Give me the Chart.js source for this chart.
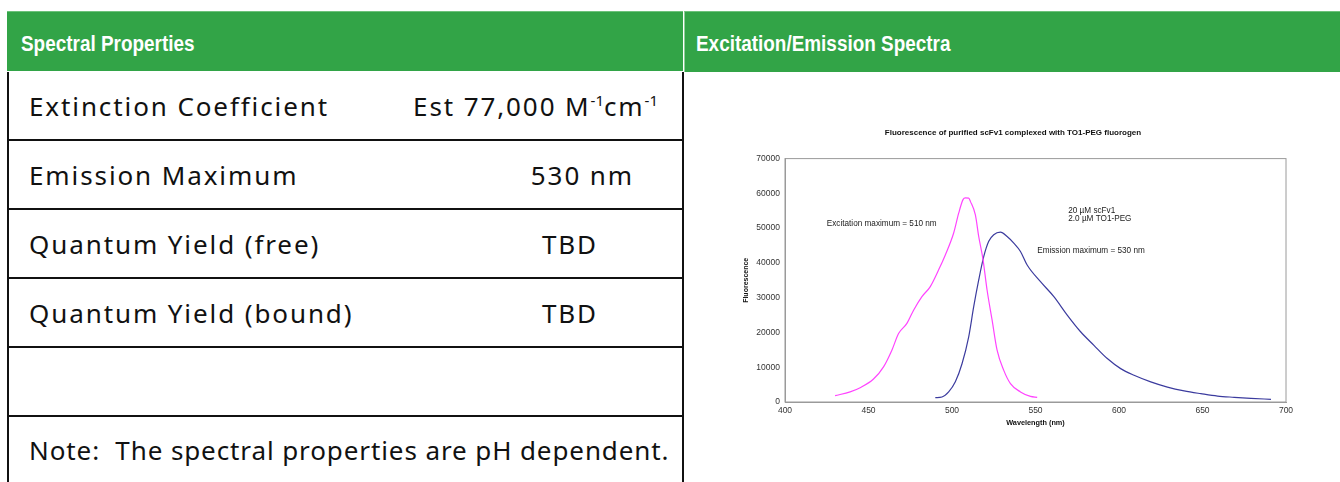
<!DOCTYPE html>
<html>
<head>
<meta charset="utf-8">
<script src="https://cdn.jsdelivr.net/npm/chart.js@4.4.0/dist/chart.umd.min.js"></script>
<style>
  body { margin: 0; background: #fff; width: 1340px; height: 482px; overflow: hidden; position: relative; font-family: "Liberation Sans", Arial, sans-serif; }
  .head { position: absolute; top: 11px; height: 60px; background: #32a447; border-top: 1px solid #6cc27a; color: #fff; font-weight: bold; font-size: 21.5px; line-height: 64px; }
  .head span { display: inline-block; transform: scaleX(0.88); transform-origin: left center; }
  #headL { left: 7px; width: 676px; padding-left: 14px; box-sizing: border-box; }
  #headR { left: 684px; right: 0; padding-left: 11px; border-left: 1px solid #8fd09a; }
  #props { position: absolute; left: 7px; top: 72px; width: 677px; border-collapse: collapse; }
  #props td { border: 2px solid #111; border-top: none; height: 67px; padding: 0; font-family: "Noto Sans", sans-serif; font-size: 26px; letter-spacing: 1.9px; color: #111; white-space: nowrap; }
  #props td.k { padding-left: 20px; border-right: none; }
  #props td.v { text-align: right; border-left: none; }
  #props td.note { padding-left: 20px; letter-spacing: 0.9px; height: 66px; border-bottom: none; }
  #props sup { font-size: 15px; letter-spacing: 0; }
  #wrap { position: absolute; left: 690px; top: 120px; width: 650px; height: 330px; }
</style>
</head>
<body>
<div class="head" id="headL"><span>Spectral Properties</span></div>
<div class="head" id="headR"><span>Excitation/Emission Spectra</span></div>

<table id="props">
  <tr><td class="k">Extinction Coefficient</td><td class="v" style="padding-right:24px">Est 77,000 M<sup>-1</sup>cm<sup>-1</sup></td></tr>
  <tr><td class="k">Emission Maximum</td><td class="v" style="padding-right:48px">530 nm</td></tr>
  <tr><td class="k">Quantum Yield (free)</td><td class="v" style="padding-right:84px">TBD</td></tr>
  <tr><td class="k">Quantum Yield (bound)</td><td class="v" style="padding-right:84px">TBD</td></tr>
  <tr><td colspan="2"></td></tr>
  <tr><td class="note" colspan="2">Note:&nbsp; The spectral properties are pH dependent.</td></tr>
</table>

<div id="wrap"><canvas id="spec"></canvas></div>

<script>
// excitation spectrum (nm, fluorescence)
const excWl  = [430, 439, 445, 453, 459, 464, 468, 473, 477, 482, 487, 492, 496, 501, 504, 506.6, 508, 510, 511, 514, 516, 518.6, 521, 524, 527, 531, 535, 541, 547, 551];
const excVal = [1830, 2900, 4100, 6600, 10100, 14900, 19700, 22600, 26400, 30300, 33200, 38000, 42300, 48600, 54300, 58200, 58700, 58650, 57700, 53800, 47600, 40900, 32200, 23600, 14900, 9100, 5300, 2900, 1600, 1350];

// emission spectrum
const emWl  = [490, 494, 498, 502, 506, 510, 513, 516, 519, 522, 525, 529, 533, 537, 541, 545, 553, 561, 569, 577, 585, 593, 601, 609, 619, 629, 639, 649, 659, 669, 679, 691];
const emVal = [1250, 1440, 2900, 5800, 11000, 18750, 27400, 35100, 41800, 46200, 48100, 48850, 47600, 45700, 43300, 39400, 34600, 30300, 25000, 20200, 16300, 12500, 9600, 7700, 5800, 4300, 3200, 2400, 1700, 1350, 1050, 770];

const notes = [
  { text: 'Excitation maximum = 510 nm', x: 425, y: 51250 },
  { text: '20 \u00b5M scFv1', x: 569.6, y: 55100 },
  { text: '2.0 \u00b5M TO1-PEG', x: 569.6, y: 52700 },
  { text: 'Emission maximum = 530 nm', x: 551, y: 43500 }
];

const toPts = (xs, ys) => xs.map((x, i) => ({ x: x, y: ys[i] }));
const FONT = '"Liberation Sans", Arial, sans-serif';

// text labels inside plot, placed via the scales
const notesPlugin = {
  id: 'notes',
  afterDatasetsDraw(chart) {
    const ctx = chart.ctx, xs = chart.scales.x, ys = chart.scales.y;
    ctx.save();
    ctx.fillStyle = '#222';
    ctx.font = '8.2px ' + FONT;
    ctx.textBaseline = 'middle';
    notes.forEach(n => ctx.fillText(n.text, xs.getPixelForValue(n.x), ys.getPixelForValue(n.y)));
    ctx.restore();
  }
};

// grey frame round the plot area
const framePlugin = {
  id: 'frame',
  beforeDatasetsDraw(chart) {
    const { ctx, chartArea: a } = chart;
    ctx.save();
    ctx.strokeStyle = '#9a9a9a';
    ctx.lineWidth = 1;
    ctx.strokeRect(a.left, a.top, a.right - a.left, a.bottom - a.top);
    ctx.restore();
  }
};

new Chart(document.getElementById('spec'), {
  type: 'line',
  data: {
    datasets: [
      { label: 'Excitation', data: toPts(excWl, excVal), borderColor: '#ff44ff', borderWidth: 1.2, pointRadius: 0, cubicInterpolationMode: 'monotone', fill: false },
      { label: 'Emission', data: toPts(emWl, emVal), borderColor: '#3b3b9e', borderWidth: 1.2, pointRadius: 0, cubicInterpolationMode: 'monotone', fill: false }
    ]
  },
  options: {
    responsive: true,
    maintainAspectRatio: false,
    animation: false,
    layout: { padding: { left: 50, right: 54, top: 0, bottom: 18 } },
    plugins: {
      legend: { display: false },
      tooltip: { enabled: false },
      title: {
        display: true,
        text: 'Fluorescence of purified scFv1 complexed with TO1-PEG fluorogen',
        color: '#111',
        font: { family: FONT, size: 8, weight: 'bold' },
        padding: { top: 8, bottom: 21 }
      }
    },
    scales: {
      x: {
        type: 'linear', min: 400, max: 700,
        afterFit: s => { s.height = 30; },
        grid: { display: false, drawTicks: true, tickLength: 3 },
        border: { color: '#9a9a9a' },
        ticks: { stepSize: 50, color: '#333', padding: 1, font: { family: FONT, size: 8.5 }, maxRotation: 0 },
        title: { display: true, text: 'Wavelength (nm)', color: '#111', font: { family: FONT, size: 7.3, weight: 'bold' }, padding: { top: 0, bottom: 5 } }
      },
      y: {
        min: 0, max: 70000,
        afterFit: s => { s.width = 45; },
        grid: { display: false, drawTicks: true, tickLength: 3 },
        border: { color: '#9a9a9a' },
        ticks: { stepSize: 10000, color: '#333', padding: 2, format: { useGrouping: false }, font: { family: FONT, size: 8.5 } },
        title: { display: true, text: 'Fluorescence', color: '#111', font: { family: FONT, size: 7, weight: 'bold' }, padding: { top: 2, bottom: 0 } }
      }
    }
  },
  plugins: [framePlugin, notesPlugin]
});
</script>
</body>
</html>
